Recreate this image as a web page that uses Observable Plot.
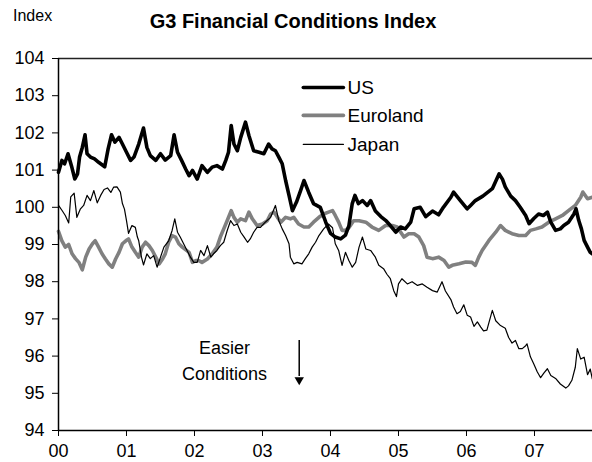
<!DOCTYPE html>
<html><head><meta charset="utf-8">
<script src="https://cdn.jsdelivr.net/npm/d3@7"></script>
<script src="https://cdn.jsdelivr.net/npm/@observablehq/plot@0.6"></script>
<style>body{margin:0;background:#fff;} svg{display:block;}</style>
</head><body><div id="chart"></div>
<script>
// ---- texts ----
const chartTitle = "G3 Financial Conditions Index";
const yUnitLabel = "Index";
const seriesNames = ["US", "Euroland", "Japan"];
const noteLines = ["Easier", "Conditions"];

// ---- ticks ----
const yTicks = [94, 95, 96, 97, 98, 99, 100, 101, 102, 103, 104];
const xTickYears = [2000, 2001, 2002, 2003, 2004, 2005, 2006, 2007];
const xTickLabels = ["00", "01", "02", "03", "04", "05", "06", "07"];

// ---- series: [years since 2000, index value] ----
const usData = [[0.00,100.94],[0.05,101.26],[0.09,101.17],[0.14,101.44],[0.19,101.12],[0.24,100.76],[0.28,100.90],[0.31,101.35],[0.35,101.61],[0.39,101.95],[0.42,101.44],[0.47,101.35],[0.53,101.30],[0.59,101.21],[0.68,101.09],[0.73,101.57],[0.78,101.95],[0.83,101.75],[0.89,101.88],[0.94,101.70],[1.00,101.48],[1.06,101.26],[1.11,101.35],[1.18,101.70],[1.25,102.13],[1.30,101.61],[1.35,101.39],[1.43,101.26],[1.50,101.44],[1.57,101.27],[1.65,101.39],[1.70,101.95],[1.75,101.48],[1.81,101.26],[1.87,101.03],[1.92,100.85],[1.97,100.99],[2.04,100.76],[2.11,101.12],[2.19,100.94],[2.26,101.08],[2.33,101.12],[2.41,101.03],[2.46,101.26],[2.50,101.48],[2.54,102.20],[2.58,101.70],[2.63,101.52],[2.68,101.88],[2.75,102.29],[2.80,101.93],[2.87,101.52],[2.95,101.48],[3.02,101.44],[3.09,101.70],[3.14,101.57],[3.19,101.52],[3.24,101.35],[3.29,101.17],[3.34,100.72],[3.39,100.32],[3.44,99.91],[3.50,100.14],[3.56,100.45],[3.61,100.72],[3.68,100.40],[3.75,100.10],[3.85,100.00],[3.93,99.60],[4.00,99.30],[4.07,99.20],[4.15,99.15],[4.22,99.25],[4.27,99.50],[4.32,100.10],[4.36,100.32],[4.41,100.10],[4.47,100.18],[4.54,100.05],[4.59,100.18],[4.66,99.90],[4.74,99.75],[4.81,99.65],[4.88,99.51],[4.96,99.33],[5.03,99.47],[5.10,99.42],[5.18,99.60],[5.23,99.96],[5.32,100.00],[5.40,99.75],[5.50,99.90],[5.59,99.80],[5.66,100.00],[5.77,100.27],[5.81,100.41],[5.91,100.18],[6.01,99.96],[6.06,100.05],[6.13,100.18],[6.24,100.30],[6.31,100.40],[6.38,100.50],[6.43,100.70],[6.48,100.90],[6.53,100.75],[6.57,100.55],[6.65,100.30],[6.72,100.18],[6.79,100.00],[6.87,99.78],[6.92,99.56],[6.99,99.70],[7.06,99.82],[7.13,99.78],[7.19,99.87],[7.24,99.60],[7.31,99.38],[7.38,99.42],[7.43,99.51],[7.50,99.60],[7.58,99.82],[7.61,99.96],[7.65,99.65],[7.69,99.42],[7.73,99.11],[7.78,98.93],[7.82,98.79],[7.85,98.75]];

const euroData = [[0.00,99.35],[0.05,99.10],[0.10,98.93],[0.15,99.00],[0.20,98.75],[0.25,98.62],[0.30,98.52],[0.35,98.32],[0.40,98.66],[0.45,98.88],[0.50,99.02],[0.54,99.10],[0.59,98.93],[0.64,98.75],[0.69,98.61],[0.74,98.48],[0.79,98.39],[0.84,98.61],[0.89,98.79],[0.94,99.02],[0.99,99.10],[1.03,99.15],[1.08,98.93],[1.13,98.79],[1.18,98.66],[1.23,98.93],[1.28,99.06],[1.33,98.97],[1.38,98.84],[1.43,98.66],[1.48,98.48],[1.53,98.61],[1.57,98.75],[1.62,99.06],[1.67,99.24],[1.72,99.20],[1.77,99.02],[1.82,98.93],[1.92,98.79],[1.97,98.52],[2.02,98.57],[2.06,98.57],[2.11,98.52],[2.19,98.61],[2.26,98.75],[2.33,98.93],[2.38,99.20],[2.43,99.42],[2.48,99.64],[2.54,99.91],[2.58,99.73],[2.63,99.60],[2.68,99.69],[2.75,99.64],[2.80,99.87],[2.85,99.69],[2.92,99.51],[3.00,99.55],[3.07,99.64],[3.12,99.82],[3.17,99.87],[3.22,99.73],[3.27,99.60],[3.34,99.73],[3.41,99.69],[3.46,99.73],[3.53,99.55],[3.61,99.47],[3.68,99.47],[3.75,99.60],[3.83,99.73],[3.90,99.82],[3.97,99.87],[4.03,99.91],[4.07,99.78],[4.12,99.60],[4.17,99.38],[4.22,99.38],[4.27,99.45],[4.34,99.64],[4.42,99.64],[4.52,99.60],[4.61,99.47],[4.71,99.38],[4.81,99.51],[4.91,99.51],[4.98,99.47],[5.08,99.20],[5.15,99.29],[5.23,99.29],[5.30,99.20],[5.37,98.97],[5.42,98.66],[5.50,98.62],[5.59,98.66],[5.67,98.57],[5.74,98.39],[5.79,98.44],[5.89,98.48],[5.99,98.53],[6.08,98.52],[6.13,98.44],[6.18,98.66],[6.23,98.84],[6.33,99.11],[6.43,99.33],[6.50,99.51],[6.57,99.38],[6.67,99.29],[6.77,99.24],[6.87,99.24],[6.94,99.38],[7.02,99.42],[7.11,99.47],[7.21,99.60],[7.31,99.69],[7.41,99.78],[7.50,99.91],[7.60,100.05],[7.68,100.27],[7.71,100.41],[7.78,100.23],[7.85,100.27]];

const japanData = [[0.00,100.05],[0.05,99.92],[0.10,99.78],[0.15,99.58],[0.18,100.28],[0.23,100.38],[0.27,99.73],[0.32,99.95],[0.37,100.05],[0.42,100.32],[0.47,100.18],[0.52,100.45],[0.57,100.12],[0.62,100.32],[0.67,100.48],[0.72,100.52],[0.77,100.40],[0.81,100.54],[0.86,100.55],[0.91,100.41],[0.94,100.10],[0.97,99.95],[1.00,99.64],[1.03,99.30],[1.08,99.51],[1.13,99.46],[1.16,99.20],[1.18,99.10],[1.22,98.66],[1.25,98.45],[1.30,98.75],[1.35,98.62],[1.40,98.70],[1.45,98.39],[1.50,98.66],[1.55,98.93],[1.62,99.10],[1.67,99.37],[1.71,99.69],[1.75,99.33],[1.79,99.20],[1.84,99.02],[1.89,98.84],[1.94,98.66],[1.99,98.52],[2.04,98.52],[2.09,98.84],[2.14,98.70],[2.19,98.97],[2.24,98.66],[2.28,98.75],[2.33,98.84],[2.38,98.97],[2.43,99.06],[2.48,99.37],[2.53,99.64],[2.58,99.51],[2.63,99.55],[2.68,99.33],[2.73,99.20],[2.78,99.06],[2.82,99.15],[2.87,99.33],[2.92,99.46],[2.97,99.46],[3.04,99.60],[3.12,99.73],[3.19,100.05],[3.24,99.64],[3.29,99.42],[3.34,99.24],[3.39,99.02],[3.41,98.66],[3.46,98.48],[3.51,98.52],[3.58,98.48],[3.63,98.62],[3.68,98.75],[3.73,98.93],[3.78,99.06],[3.83,99.24],[3.90,99.42],[3.97,99.55],[4.03,99.45],[4.07,99.02],[4.12,98.84],[4.17,98.44],[4.22,98.79],[4.27,98.57],[4.32,98.39],[4.37,98.52],[4.42,98.93],[4.47,99.20],[4.52,98.88],[4.59,98.84],[4.66,98.66],[4.71,98.44],[4.78,98.35],[4.83,98.20],[4.88,98.08],[4.93,97.76],[4.97,97.60],[5.00,97.94],[5.05,98.08],[5.13,97.94],[5.20,98.00],[5.28,97.90],[5.35,97.94],[5.42,97.85],[5.50,97.76],[5.57,97.72],[5.64,98.00],[5.69,97.75],[5.77,97.52],[5.81,97.32],[5.86,97.14],[5.91,97.20],[5.96,97.38],[6.01,97.10],[6.06,97.05],[6.11,96.80],[6.16,96.92],[6.21,96.78],[6.25,96.68],[6.30,96.70],[6.33,96.90],[6.38,97.23],[6.43,96.95],[6.50,96.82],[6.57,96.75],[6.62,96.50],[6.67,96.35],[6.72,96.42],[6.77,96.20],[6.82,96.20],[6.87,96.28],[6.89,96.33],[6.94,95.98],[6.99,95.79],[7.04,95.58],[7.09,95.42],[7.14,95.55],[7.19,95.66],[7.24,95.48],[7.31,95.40],[7.38,95.25],[7.46,95.14],[7.50,95.20],[7.55,95.35],[7.60,95.70],[7.63,96.20],[7.68,95.92],[7.73,95.97],[7.78,95.50],[7.82,95.65],[7.85,95.39]];

// ---- layout (data coordinates for legend / note) ----
const baseYear = 2000;
const xEnd = 2007.853;
const legendX = [2003.60, 2004.19];
const legendTextX = 2004.25;
const legendY = [103.22, 102.47, 101.69];
const noteX = 2002.44;
const noteY = [96.2, 95.5];
const arrowX = 2003.54;
const arrowY = [96.42, 95.45, 95.36];

// ---- styles ----
const strokeOf = {US: "#000", Euroland: "#808080", Japan: "#000"};
const widthOf = {US: 3.6, Euroland: 3.6, Japan: 1.2};

const toRows = (arr, name) => arr.map(([t, v]) => ({name, x: baseYear + t, v}));
const seriesRows = {
  US: toRows(usData, "US"),
  Euroland: toRows(euroData, "Euroland"),
  Japan: toRows(japanData, "Japan")
};

const legendRows = seriesNames.flatMap((name, i) =>
  legendX.map(x => ({name, x, v: legendY[i]})));
const legendLabels = seriesNames.map((name, i) => ({name, x: legendTextX, v: legendY[i]}));
const noteRows = noteLines.map((s, i) => ({s, x: noteX, v: noteY[i]}));

const drawOrder = ["Euroland", "US", "Japan"];

const plot = Plot.plot({
  width: 592,
  height: 462,
  marginLeft: 58,
  marginRight: 0,
  marginTop: 58,
  marginBottom: 32,
  style: {fontFamily: "'Liberation Sans', Arial, sans-serif", fontSize: "18px", color: "#000", background: "#fff", overflow: "visible"},
  x: {domain: [baseYear, xEnd], ticks: xTickYears, tickFormat: d => xTickLabels[xTickYears.indexOf(d)], tickSize: 6, tickPadding: 8, label: null},
  y: {domain: [94, 104], ticks: yTicks, tickSize: 6, tickPadding: 8, label: null},
  marks: [
    Plot.ruleY([104], {stroke: "#222", strokeWidth: 1.5}),
    ...drawOrder.map(name => Plot.line(seriesRows[name], {x: "x", y: "v", stroke: strokeOf[name], strokeWidth: widthOf[name], strokeLinejoin: "round"})),
    Plot.ruleX([baseYear], {stroke: "#000", strokeWidth: 1.5}),
    Plot.ruleY([94], {stroke: "#000", strokeWidth: 1.5}),
    ...seriesNames.map(name => Plot.line(legendRows.filter(d => d.name === name), {x: "x", y: "v", stroke: strokeOf[name], strokeWidth: widthOf[name]})),
    Plot.text(legendLabels, {x: "x", y: "v", text: "name", textAnchor: "start", fontSize: 19, fill: "#000"}),
    Plot.text(noteRows, {x: "x", y: "v", text: "s", textAnchor: "middle", fontSize: 18, fill: "#000"}),
    Plot.ruleX([{x: arrowX, y1: arrowY[0], y2: arrowY[1]}], {x: "x", y1: "y1", y2: "y2", stroke: "#000", strokeWidth: 1.5}),
    Plot.dot([{x: arrowX, y: arrowY[2]}], {x: "x", y: "y", symbol: "triangle", rotate: 180, r: 3.5, fill: "#000", stroke: "none"})
  ]
});

const svg = d3.select(plot);
svg.append("text").attr("x", 13).attr("y", 21).attr("text-anchor", "start").attr("font-size", 16).attr("fill", "#000").text(yUnitLabel);
svg.append("text").attr("x", 293).attr("y", 28).attr("text-anchor", "middle").attr("font-size", 20).attr("font-weight", "bold").attr("fill", "#000").text(chartTitle);

document.getElementById("chart").appendChild(plot);
</script>
</body></html>
